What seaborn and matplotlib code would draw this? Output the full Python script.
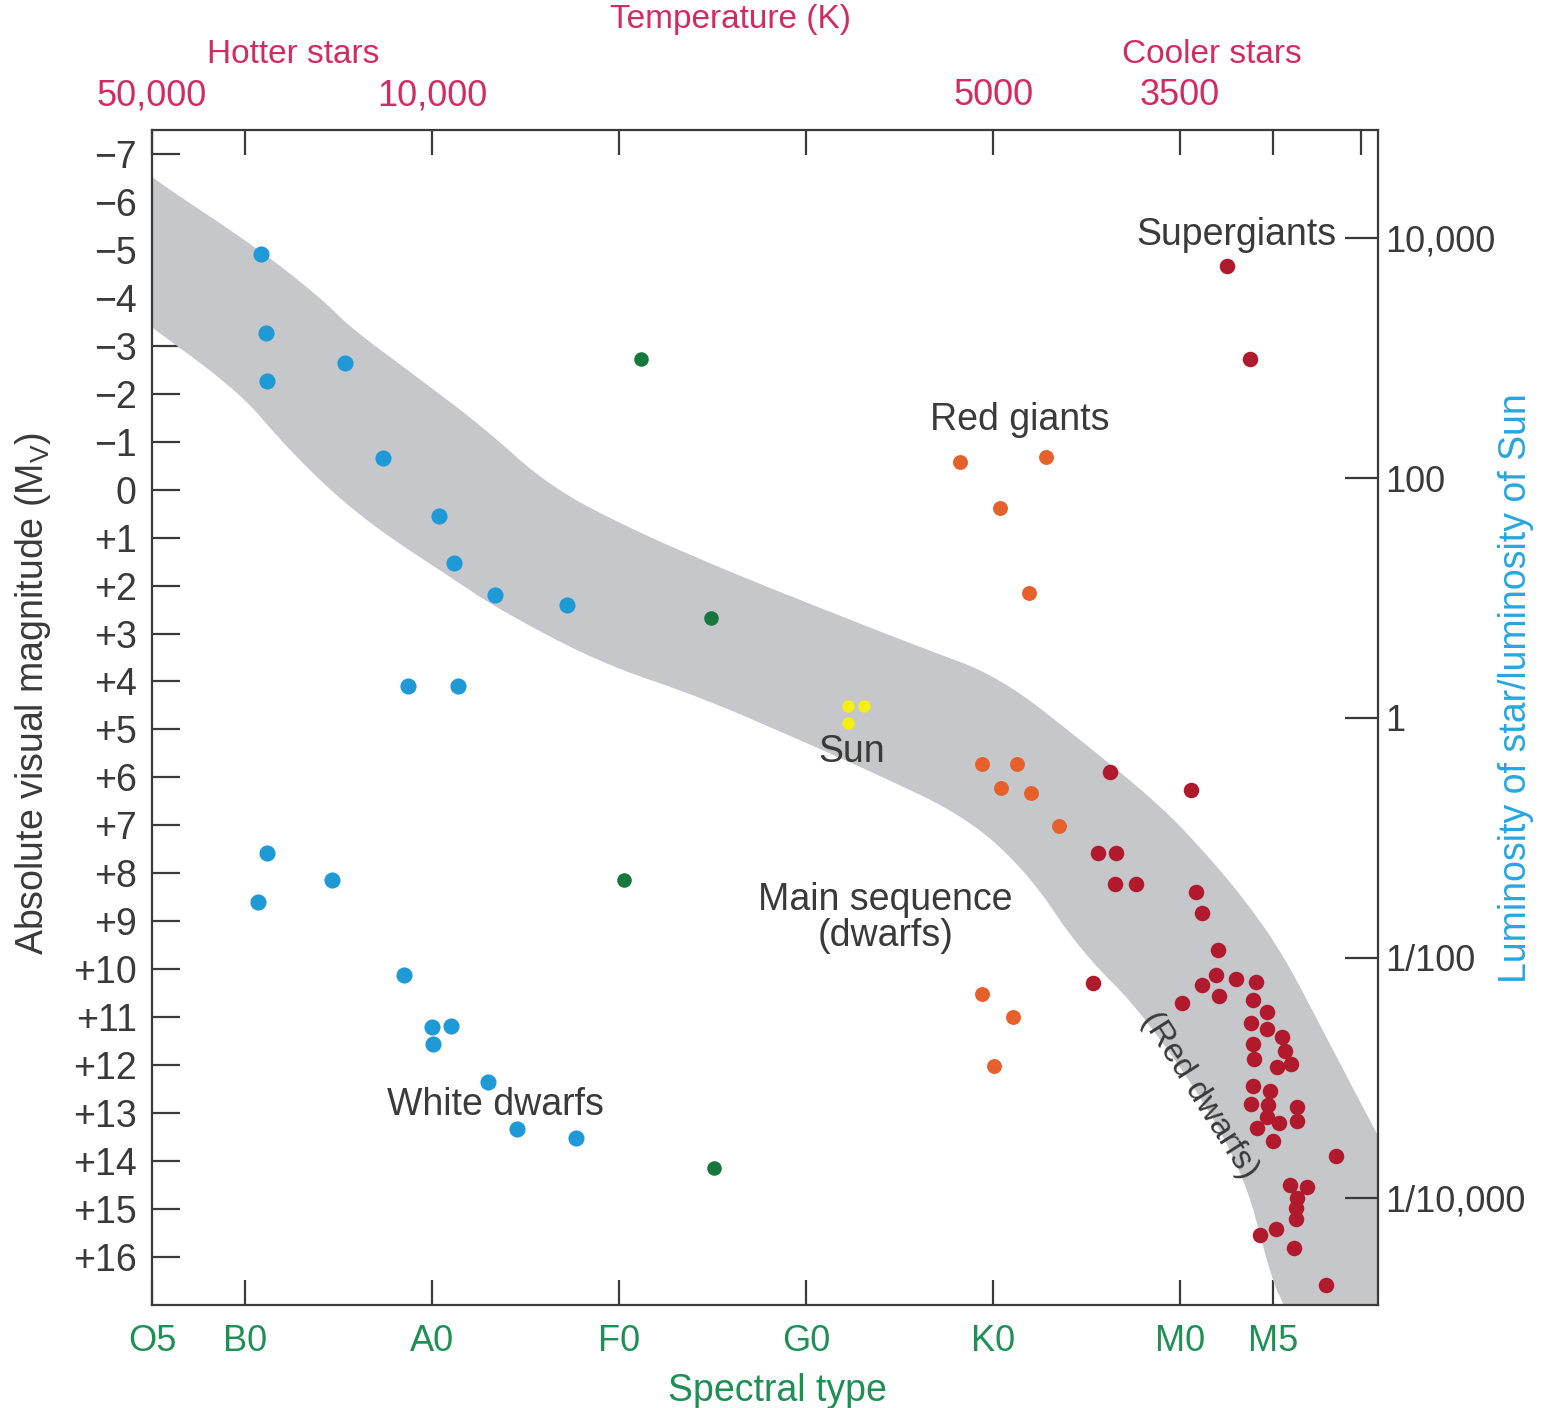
import numpy as np
import pandas as pd
import matplotlib
matplotlib.use("Agg")
import matplotlib.pyplot as plt
import seaborn as sns

# ---- spectral type axis: O0=0, B0=10, A0=20, F0=30, G0=40, K0=50, M0=60 ----
spec_ticks = [5, 10, 20, 30, 40, 50, 60, 65, 69.7]
spec_labels = ["O5", "B0", "A0", "F0", "G0", "K0", "M0", "M5", ""]
temp_labels = ["50,000", "", "10,000", "", "", "5000", "3500", "", ""]

mag_ticks = list(range(-7, 17))
mag_labels = [("\u2212%d" % -m) if m < 0 else ("0" if m == 0 else "+%d" % m) for m in mag_ticks]

lum_values = [1e4, 1e2, 1.0, 1e-2, 1e-4]
lum_labels = ["10,000", "100", "1", "1/100", "1/10,000"]
sun_abs_mag = 4.76

# ---- main-sequence band outline (spectral index, magnitude) ----
band_upper_x = [4.5, 5.0, 10.78, 14.14, 15.58, 19.17, 22.70, 26.28, 30.72, 36.07, 41.42,
                46.07, 50.35, 55.0, 58.90, 61.20, 63.34, 65.48, 67.99, 70.56, 72.0]
band_upper_y = [-6.7, -6.50, -5.00, -3.96, -3.39, -2.35, -1.31, -0.06, 0.84, 1.74, 2.57,
                3.28, 3.90, 5.32, 6.57, 7.51, 8.49, 9.66, 11.54, 13.45, 14.5]
band_lower_x = [4.5, 5.0, 9.71, 12.01, 14.68, 17.35, 20.94, 23.61, 28.96, 34.31, 39.65,
                43.24, 48.58, 51.95, 54.63, 58.21, 63.18, 64.95, 65.59, 65.8]
band_lower_y = [-3.5, -3.39, -2.02, -0.97, 0.07, 0.90, 1.82, 2.51, 3.61, 4.32, 5.22,
                5.84, 6.82, 8.03, 9.60, 10.99, 13.91, 16.54, 17.0, 17.6]

# ---- stars ----
blue_x = [10.83, 11.10, 11.15, 15.32, 17.35, 20.35, 21.15, 23.34, 27.19, 18.69, 21.36,
          11.15, 14.63, 10.67, 18.48, 19.97, 20.99, 20.03, 22.97, 24.52, 27.67]
blue_y = [-4.91, -3.27, -2.27, -2.64, -0.66, 0.55, 1.53, 2.20, 2.40, 4.09, 4.09,
          7.57, 8.14, 8.60, 10.12, 11.20, 11.18, 11.56, 12.35, 13.33, 13.52]

green_x = [31.15, 34.89, 30.24, 35.05]
green_y = [-2.73, 2.67, 8.14, 14.14]

sun_x = [42.22, 43.07, 42.22]
sun_y = [4.51, 4.51, 4.86]

orange_x = [48.21, 52.81, 50.35, 51.90, 49.39, 51.26, 50.40, 52.01, 53.50, 49.39, 51.05, 50.03]
orange_y = [-0.58, -0.68, 0.38, 2.15, 5.72, 5.72, 6.22, 6.32, 7.01, 10.51, 10.99, 12.02]

red_x = [62.54, 63.72, 56.28, 60.61, 55.59, 56.60, 56.50, 57.67, 60.88, 61.15, 62.01,
         55.37, 61.95, 62.97, 64.04, 61.20, 62.06, 60.13, 63.93, 64.68, 63.82, 64.63,
         65.43, 63.93, 65.59, 63.98, 65.21, 65.96, 63.88, 64.84, 63.82, 64.73, 66.28,
         64.68, 65.27, 66.28, 64.14, 65.0, 68.37, 65.91, 66.82, 66.28, 66.23, 66.23,
         65.16, 64.30, 66.12, 67.83]
red_y = [-4.66, -2.73, 5.89, 6.26, 7.57, 7.57, 8.22, 8.22, 8.39, 8.83, 9.60,
         10.29, 10.12, 10.20, 10.26, 10.33, 10.56, 10.70, 10.64, 10.89, 11.12, 11.24,
         11.41, 11.56, 11.70, 11.87, 12.04, 11.97, 12.43, 12.54, 12.81, 12.83, 12.87,
         13.08, 13.20, 13.16, 13.31, 13.58, 13.89, 14.50, 14.54, 14.77, 14.98, 15.21,
         15.41, 15.54, 15.81, 16.58]

groups = {
    "hot": (blue_x, blue_y),
    "fg": (green_x, green_y),
    "sun": (sun_x, sun_y),
    "k": (orange_x, orange_y),
    "m": (red_x, red_y),
}
palette = {"hot": "#1f9ad6", "fg": "#17783d", "sun": "#f4ee13",
           "k": "#e5602a", "m": "#b01a2c"}
sizes = {"hot": 135, "fg": 110, "sun": 80, "k": 115, "m": 125}

frames = [pd.DataFrame({"spec": gx, "mag": gy, "group": g}) for g, (gx, gy) in groups.items()]
stars = pd.concat(frames, ignore_index=True)


def chaikin(xs, ys, rounds=3):
    """Round off the corners of an open polyline, keeping its end points."""
    pts = np.column_stack([xs, ys]).astype(float)
    for _ in range(rounds):
        q = 0.75 * pts[:-1] + 0.25 * pts[1:]
        r = 0.25 * pts[:-1] + 0.75 * pts[1:]
        mid = np.empty((2 * len(q), 2))
        mid[0::2] = q
        mid[1::2] = r
        pts = np.vstack([pts[:1], mid, pts[-1:]])
    return pts[:, 0], pts[:, 1]


# ---- styling ----
sns.set_theme(style="white")
plt.rcParams["font.family"] = ["Liberation Sans", "DejaVu Sans"]
plt.rcParams["mathtext.fontset"] = "custom"
plt.rcParams["mathtext.rm"] = "Liberation Sans"
plt.rcParams["mathtext.it"] = "Liberation Sans:italic"

ink = "#3a3a3a"
pink = "#d42a62"
green_txt = "#1f8f55"
blue_txt = "#27a6df"
FS = 27

fig = plt.figure(figsize=(15.41, 14.08), dpi=100)
ax = fig.add_axes([0.0986, 0.0732, 0.7956, 0.8345])

# main-sequence band
ux, uy = chaikin(band_upper_x, band_upper_y)
lx, ly = chaikin(band_lower_x, band_lower_y)
poly_x = list(ux) + [72.0] + list(lx[::-1])
poly_y = list(uy) + [17.6] + list(ly[::-1])
ax.fill(poly_x, poly_y, color="#c6c7ca", lw=0, zorder=1)

for g in groups:
    sns.scatterplot(data=stars[stars["group"] == g], x="spec", y="mag", color=palette[g],
                    s=sizes[g], linewidth=0, ax=ax, zorder=3, legend=False)

ax.set_xlim(5, 70.59)
ax.set_ylim(17.0, -7.5)

for sp in ax.spines.values():
    sp.set_color(ink)
    sp.set_linewidth(1.6)

ax.set_xticks(spec_ticks)
ax.set_xticklabels(spec_labels, color=green_txt, fontsize=FS - 1)
ax.set_yticks(mag_ticks)
ax.set_yticklabels(mag_labels, color=ink, fontsize=FS)
ax.tick_params(axis="x", direction="in", length=18, width=1.6, color=ink, pad=14)
ax.tick_params(axis="y", direction="in", length=20, width=1.6, color=ink, pad=11)
ax.set_xlabel("Spectral type", color=green_txt, fontsize=FS)
ax.xaxis.set_label_coords(0.51, -0.058)
ax.set_ylabel("Absolute visual magnitude (M$_\\mathrm{V}$)", color=ink, fontsize=FS)
ax.yaxis.set_label_coords(-0.081, 0.52)

# temperature axis on top
top = ax.twiny()
top.set_xlim(ax.get_xlim())
top.set_xticks(spec_ticks)
top.set_xticklabels(temp_labels, color=pink, fontsize=FS - 1)
top.tick_params(axis="x", direction="in", length=18, width=1.6, color=ink, pad=12)
for sp in top.spines.values():
    sp.set_visible(False)

# luminosity axis on the right
right = ax.twinx()
right.set_ylim(ax.get_ylim())
right.set_yticks([sun_abs_mag - 2.5 * np.log10(v) for v in lum_values])
right.set_yticklabels(lum_labels, color=ink, fontsize=FS - 1)
right.tick_params(axis="y", direction="in", length=24, width=1.6, color=ink, pad=5)
right.set_ylabel("Luminosity of star/luminosity of Sun", color=blue_txt, fontsize=FS)
right.yaxis.set_label_coords(1.098, 0.525)
for sp in right.spines.values():
    sp.set_visible(False)

# headings around the frame
fig.text(0.474, 0.986, "Temperature (K)", color=pink, fontsize=FS - 3, ha="center", va="center")
fig.text(0.190, 0.961, "Hotter stars", color=pink, fontsize=FS - 3, ha="center", va="center")
fig.text(0.7865, 0.961, "Cooler stars", color=pink, fontsize=FS - 3, ha="center", va="center")

# region labels
ax.text(57.67, -5.31, "Supergiants", fontsize=FS, color=ink, ha="left", va="center", zorder=4)
ax.text(51.42, -1.45, "Red giants", fontsize=FS, color=ink, ha="center", va="center", zorder=4)
ax.text(42.43, 5.47, "Sun", fontsize=FS, color=ink, ha="center", va="center", zorder=4)
ax.text(44.25, 8.93, "Main sequence\n(dwarfs)", fontsize=FS, color=ink, ha="center",
        va="center", linespacing=1.0, zorder=4)
ax.text(23.40, 12.83, "White dwarfs", fontsize=FS, color=ink, ha="center", va="center", zorder=4)
ax.text(61.04, 12.63, "(Red dwarfs)", fontsize=FS - 3, color=ink, ha="center", va="center",
        rotation=-57.5, rotation_mode="anchor", zorder=4)

fig.savefig("out.png", dpi=100, facecolor="white")
